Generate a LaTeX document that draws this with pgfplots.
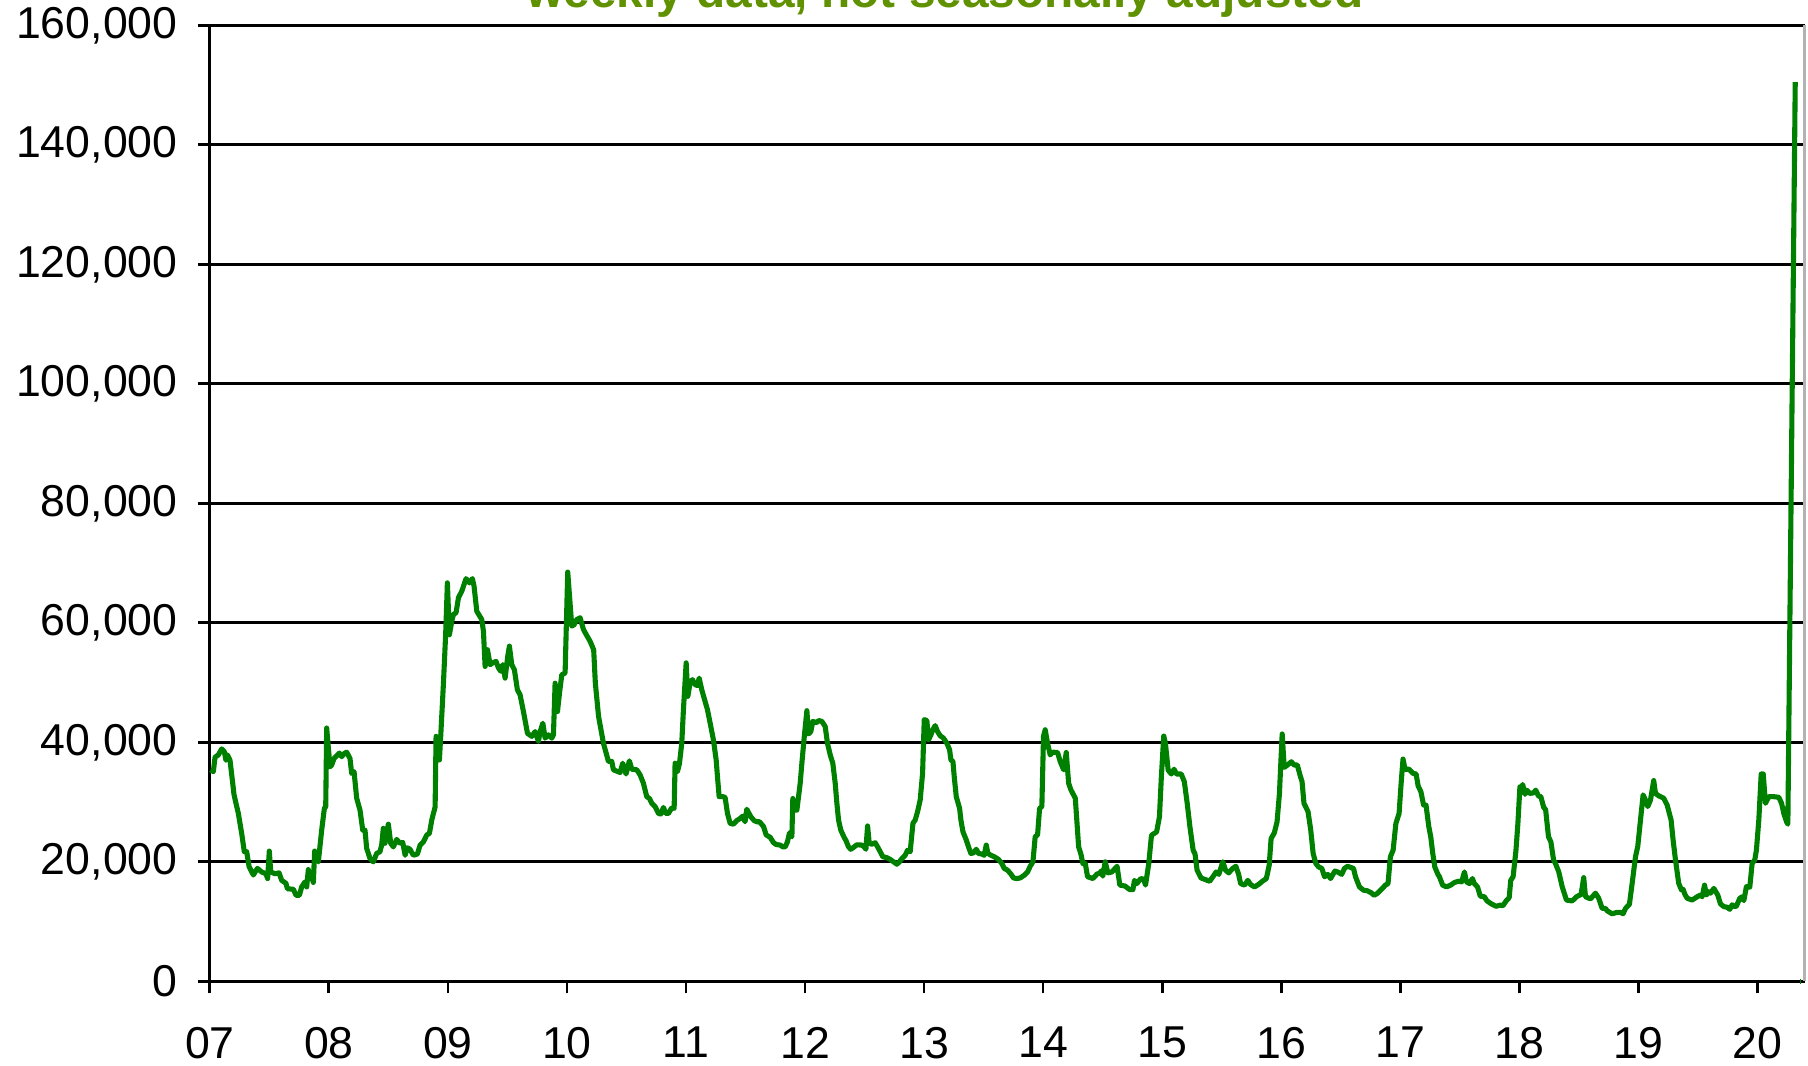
\documentclass[border=0pt]{standalone}
\usepackage{fontspec}
\setmainfont{Liberation Sans}
\usepackage{pgfplots}
\pgfplotsset{compat=1.18}
\definecolor{linegreen}{RGB}{0,128,0}
\definecolor{titlegreen}{RGB}{95,145,0}
\begin{document}
\begin{tikzpicture}
\begin{axis}[
  at={(0,0)}, anchor=south west,
  scale only axis, width=15.946cm, height=9.559cm,
  xmin=2007, xmax=2020.396, ymin=0, ymax=160000,
  axis x line*=bottom, axis y line*=left,
  axis line style={black, line width=0.9pt},
  xtick={2007,...,2020},
  xticklabels={07,08,09,10,11,12,13,14,15,16,17,18,19,20},
  ytick={0,20000,40000,60000,80000,100000,120000,140000,160000},
  yticklabels={0,{20,000},{40,000},{60,000},{80,000},{100,000},{120,000},{140,000},{160,000}},
  scaled y ticks=false,
  ymajorgrids, grid style={black, line width=0.8pt},
  tick align=outside, major tick length=0.12cm,
  tick style={black, line width=0.8pt},
  ticklabel style={font=\fontsize{12.7}{15}\selectfont},
  xticklabel style={inner sep=0pt, yshift=-0.33cm},
  yticklabel style={xshift=-0.08cm},
  clip=false,
]
\addplot[linegreen, line width=1.45pt, line join=round] coordinates {
(2007.006,35400) (2007.029,35100) (2007.043,37500) (2007.071,37900) (2007.099,38900) (2007.121,38450) (2007.135,37000) (2007.147,37900) (2007.169,37000) (2007.203,31200) (2007.239,28100) (2007.267,24750) (2007.289,21700) (2007.309,21700) (2007.329,19200) (2007.365,17800) (2007.399,18900) (2007.435,18300) (2007.471,18000) (2007.485,17200) (2007.499,21800) (2007.511,18300) (2007.547,18000) (2007.581,18150) (2007.603,16900) (2007.639,16400) (2007.651,15500) (2007.701,15400) (2007.724,14400) (2007.752,14400) (2007.771,15800) (2007.799,16650) (2007.813,15800) (2007.827,18700) (2007.841,17200) (2007.855,17500) (2007.869,16550) (2007.880,21800) (2007.897,20550) (2007.911,20000) (2007.939,25300) (2007.962,29000) (2007.973,29200) (2007.981,42400) (2008.009,35900) (2008.023,36200) (2008.043,37300) (2008.088,38200) (2008.107,37600) (2008.127,38100) (2008.149,38350) (2008.177,37300) (2008.191,34800) (2008.211,35100) (2008.233,30650) (2008.261,28650) (2008.284,25300) (2008.303,25300) (2008.317,22250) (2008.345,20550) (2008.373,20000) (2008.401,21400) (2008.429,21700) (2008.443,22800) (2008.457,25600) (2008.471,23100) (2008.485,24750) (2008.499,26300) (2008.519,23100) (2008.541,22500) (2008.569,23750) (2008.597,23100) (2008.620,23250) (2008.640,21100) (2008.659,22350) (2008.681,22100) (2008.709,21100) (2008.743,21300) (2008.766,22800) (2008.794,23350) (2008.822,24500) (2008.844,24750) (2008.864,27000) (2008.892,29200) (2008.900,41000) (2008.911,39300) (2008.928,37050) (2008.939,41000) (2008.962,49900) (2008.981,58300) (2008.995,66700) (2009.012,58000) (2009.032,60300) (2009.046,61400) (2009.068,61700) (2009.088,64200) (2009.116,65300) (2009.152,67400) (2009.180,66700) (2009.205,67400) (2009.219,66150) (2009.242,61950) (2009.284,60550) (2009.298,58600) (2009.312,52700) (2009.332,55500) (2009.354,53000) (2009.376,53300) (2009.404,53550) (2009.424,52450) (2009.443,51900) (2009.460,53000) (2009.480,50750) (2009.502,54400) (2009.516,56100) (2009.536,53000) (2009.558,52150) (2009.583,48800) (2009.606,47950) (2009.634,45150) (2009.668,41500) (2009.704,41000) (2009.732,41800) (2009.760,40150) (2009.774,41800) (2009.797,43200) (2009.816,40700) (2009.844,41250) (2009.872,40700) (2009.886,41250) (2009.900,49900) (2009.920,45150) (2009.937,48250) (2009.956,51300) (2009.984,51600) (2010.006,68500) (2010.040,59450) (2010.060,59700) (2010.082,60550) (2010.110,60850) (2010.138,58900) (2010.161,58050) (2010.194,56900) (2010.224,55500) (2010.238,49900) (2010.265,44350)
(2010.306,39850) (2010.348,36800) (2010.376,36800) (2010.390,35400) (2010.446,34950) (2010.468,36500) (2010.496,34700) (2010.524,36900) (2010.544,35500) (2010.586,35400) (2010.614,34550) (2010.642,33150) (2010.670,30900) (2010.693,30600) (2010.712,29800) (2010.740,29250) (2010.768,28100) (2010.788,28000) (2010.810,29100) (2010.830,28100) (2010.852,28100) (2010.880,29050) (2010.900,28950) (2010.908,36500) (2010.928,35100) (2010.945,36500) (2010.964,39850) (2010.978,45450) (2011.001,53300) (2011.015,47700) (2011.034,49950) (2011.054,50500) (2011.076,49650) (2011.096,49500) (2011.110,50750) (2011.132,48800) (2011.152,47400) (2011.180,45450) (2011.208,42650) (2011.230,40400) (2011.253,37050) (2011.264,34250) (2011.278,30900) (2011.309,30900) (2011.328,30800) (2011.348,28100) (2011.370,26450) (2011.398,26300) (2011.426,26900) (2011.454,27250) (2011.477,27650) (2011.496,26700) (2011.510,28800) (2011.544,27550) (2011.572,26900) (2011.595,26700) (2011.617,26700) (2011.651,25900) (2011.673,24500) (2011.707,24100) (2011.735,23200) (2011.757,22900) (2011.791,22800) (2011.813,22500) (2011.833,22500) (2011.852,23350) (2011.869,24850) (2011.889,24200) (2011.897,30600) (2011.911,28650) (2011.931,28650) (2011.945,30900) (2011.959,33150) (2011.973,36500) (2011.992,40700) (2012.015,45300) (2012.029,41400) (2012.048,41800) (2012.065,43500) (2012.099,43300) (2012.113,43650) (2012.141,43500) (2012.169,42650) (2012.188,39850) (2012.211,37900) (2012.233,36500) (2012.253,33150) (2012.267,29800) (2012.281,27000) (2012.300,25300) (2012.328,24100) (2012.345,23500) (2012.365,22500) (2012.384,22100) (2012.412,22500) (2012.435,22850) (2012.477,22800) (2012.497,22500) (2012.511,22100) (2012.525,26000) (2012.539,23100) (2012.561,22950) (2012.589,23200) (2012.609,22500) (2012.631,21700) (2012.653,20850) (2012.687,20700) (2012.715,20400) (2012.743,20000) (2012.771,19600) (2012.793,20000) (2012.813,20550) (2012.841,21100) (2012.861,21950) (2012.883,21700) (2012.906,26450) (2012.925,27000) (2012.945,28400) (2012.967,30350) (2012.987,34800) (2013.001,43800) (2013.023,43650) (2013.037,40400) (2013.057,41250) (2013.073,42100) (2013.093,42800) (2013.113,41800) (2013.135,41100) (2013.163,40700) (2013.191,39850) (2013.214,38750) (2013.225,37050) (2013.242,36800) (2013.253,34250) (2013.270,30900) (2013.298,28950) (2013.309,27000) (2013.326,25050) (2013.354,23650) (2013.373,22500) (2013.393,21400) (2013.415,21500) (2013.438,22100) (2013.457,21400) (2013.485,21300) (2013.505,21100) (2013.522,22800) (2013.536,21400) (2013.561,21100) (2013.589,20850) (2013.625,20400) (2013.653,19700) (2013.673,18900) (2013.701,18600) (2013.729,17950) (2013.751,17300) (2013.779,17200) (2013.807,17300) (2013.841,17750) (2013.869,18300) (2013.891,19250) (2013.914,20000) (2013.933,24200) (2013.953,24500) (2013.970,28950) (2013.989,29250) (2014.003,41000) (2014.017,42100) (2014.037,39850) (2014.059,37900) (2014.082,38350) (2014.121,38300) (2014.143,36800) (2014.172,35400) (2014.194,38300) (2014.214,33150) (2014.233,32050) (2014.270,30650) (2014.298,22500) (2014.317,21300) (2014.334,19700) (2014.354,19700) (2014.373,17500) (2014.396,17350) (2014.418,17200) (2014.452,17950) (2014.480,18150)
(2014.488,18500) (2014.501,17600) (2014.521,20000) (2014.544,18150) (2014.577,18300) (2014.621,19250) (2014.644,16100) (2014.687,15950) (2014.727,15350) (2014.754,15350) (2014.767,16900) (2014.787,16350) (2014.820,17200) (2014.844,17100) (2014.860,16100) (2014.887,19700) (2014.910,24450) (2014.953,25000) (2014.977,27550) (2014.993,34250) (2015.013,41050) (2015.027,39850) (2015.050,35350) (2015.077,34700) (2015.100,35500) (2015.120,34700) (2015.160,34700) (2015.186,33400) (2015.210,29800) (2015.233,25850) (2015.260,21950) (2015.276,21300) (2015.293,18600) (2015.326,17300) (2015.359,17050) (2015.399,16750) (2015.426,17500) (2015.453,18300) (2015.476,17900) (2015.509,20000) (2015.532,18600) (2015.559,18150) (2015.592,18900) (2015.619,19250) (2015.642,17900) (2015.659,16350) (2015.692,16100) (2015.719,16900) (2015.742,16200) (2015.775,15800) (2015.809,16200) (2015.842,16750) (2015.875,17200) (2015.899,19450) (2015.915,23900) (2015.942,24850) (2015.965,26700) (2015.985,31450) (2015.995,35900) (2016.008,41400) (2016.025,35800) (2016.052,36200) (2016.085,36750) (2016.108,36200) (2016.135,36200) (2016.158,34500) (2016.175,33400) (2016.191,29800) (2016.225,28400) (2016.248,25300) (2016.268,21400) (2016.291,19700) (2016.314,19150) (2016.341,18900) (2016.364,17500) (2016.391,17900) (2016.414,17200) (2016.451,18450) (2016.474,18300) (2016.508,17900) (2016.531,18900) (2016.557,19250) (2016.584,19050) (2016.607,18900) (2016.624,17500) (2016.657,15800) (2016.691,15250) (2016.724,15150) (2016.757,14800) (2016.780,14400) (2016.807,14700) (2016.830,15150) (2016.857,15700) (2016.874,16100) (2016.897,16350) (2016.917,20850) (2016.940,21950) (2016.963,26400) (2016.990,28100) (2017.007,33100) (2017.023,37200) (2017.040,35500) (2017.073,35500) (2017.107,34800) (2017.133,34700) (2017.150,32700) (2017.173,31750) (2017.196,29500) (2017.216,29500) (2017.240,25850) (2017.256,24200) (2017.273,21400) (2017.290,19150) (2017.316,17900) (2017.329,17500) (2017.356,16100) (2017.389,15800) (2017.423,16100) (2017.456,16550) (2017.489,16750) (2017.516,16650) (2017.539,18300) (2017.556,16650) (2017.582,16350) (2017.606,17200) (2017.622,16350) (2017.649,15800) (2017.672,14250) (2017.706,14150) (2017.729,13450) (2017.762,13000) (2017.805,12550) (2017.839,12750) (2017.862,12650) (2017.889,13450) (2017.915,14000) (2017.928,16900) (2017.948,17500) (2017.972,21950) (2017.988,26400) (2018.005,32550) (2018.015,31750) (2018.028,32950) (2018.048,31300) (2018.062,32000) (2018.088,31450) (2018.121,31550) (2018.138,32000) (2018.161,31000) (2018.181,30900) (2018.205,29100) (2018.221,28750) (2018.245,24200) (2018.265,23350) (2018.288,20300)
(2018.303,19750) (2018.331,18350) (2018.360,15850) (2018.396,13600) (2018.444,13450) (2018.480,14150) (2018.519,14550) (2018.541,17350) (2018.556,14150) (2018.598,13800) (2018.640,14750) (2018.667,13900) (2018.696,12200) (2018.724,12200) (2018.738,11800) (2018.780,11300) (2018.822,11550) (2018.850,11550) (2018.872,11300) (2018.892,12200) (2018.925,12900) (2018.948,16400) (2018.976,20850) (2018.995,22550) (2019.018,27000) (2019.040,31200) (2019.060,30350) (2019.079,29250) (2019.102,30350) (2019.129,33600) (2019.144,31450) (2019.171,31050) (2019.213,30650) (2019.242,29500) (2019.275,27000) (2019.292,23650) (2019.312,20300) (2019.339,16400) (2019.362,15300) (2019.376,15400) (2019.390,14600) (2019.410,13900) (2019.452,13600) (2019.494,14150) (2019.522,14450) (2019.536,14150) (2019.556,16100) (2019.572,14450) (2019.592,15000) (2019.606,14750) (2019.634,15550) (2019.667,14450) (2019.690,12950) (2019.718,12500) (2019.746,12400) (2019.768,12050) (2019.788,12800) (2019.810,12500) (2019.824,12600) (2019.852,13900) (2019.872,14150) (2019.886,13500) (2019.908,15850) (2019.936,15750) (2019.956,19750) (2019.978,20300) (2019.992,22000) (2020.012,27000) (2020.032,34700) (2020.049,34700) (2020.068,29800) (2020.096,30900) (2020.138,30900) (2020.180,30800) (2020.203,29800) (2020.222,28100) (2020.245,26700) (2020.256,26300) (2020.318,150500)
};
\addplot[linegreen, line width=1.45pt] coordinates {(2020.358,0) (2020.368,0)};
\draw[gray!60, line width=0.6pt] (rel axis cs:1,0) -- (rel axis cs:1,1);
\end{axis}
\node[anchor=base, text=titlegreen, font=\bfseries\fontsize{13.6}{16}\selectfont, inner sep=0pt] at (7.351cm,9.733cm) {weekly data, not seasonally adjusted};
\pgfresetboundingbox
\path[use as bounding box] (-2.099cm,-0.837cm) rectangle (15.981cm,9.813cm);
\end{tikzpicture}
\end{document}
